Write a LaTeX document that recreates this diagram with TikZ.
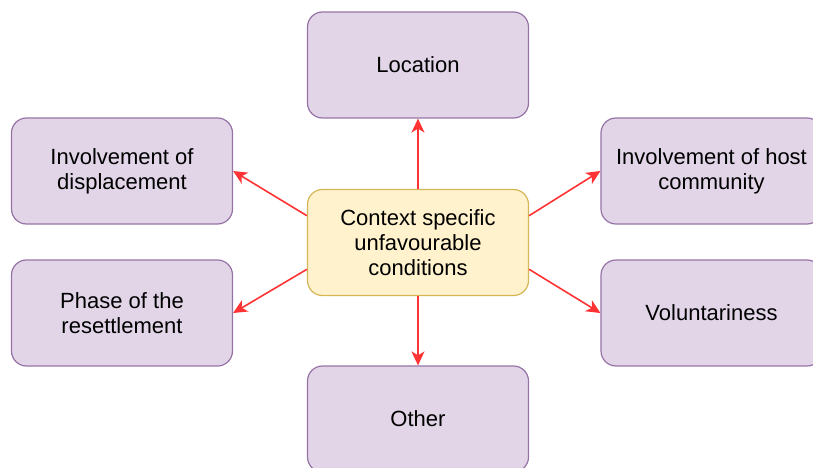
\documentclass[tikz,border=0pt]{standalone}
\usepackage{fontspec}
\setmainfont{Liberation Sans}
\usetikzlibrary{arrows.meta,calc}
\definecolor{boxfill}{HTML}{E1D5E7}
\definecolor{boxline}{HTML}{9673A6}
\definecolor{ctxfill}{HTML}{FFF2CC}
\definecolor{ctxline}{HTML}{D6B656}
\definecolor{arrowred}{HTML}{FF3333}
\begin{document}
\begin{tikzpicture}[x=1pt, y=-1pt,
    factor/.style={rectangle, rounded corners=15pt, draw=boxline, fill=boxfill, line width=1.2pt,
        minimum width=221pt, minimum height=106pt, align=center, inner sep=2pt,
        font=\fontsize{22}{25}\selectfont},
    context/.style={factor, draw=ctxline, fill=ctxfill},
    link/.style={draw=arrowred, line width=1.6pt, -{Stealth[length=14pt, width=13pt, inset=4pt]}}]
    \clip (0,0) rectangle (813,468);
    \node[context] (ctx) at (418,242.5) {Context specific\\unfavourable\\conditions};
    \node[factor] (loc) at (418,65) {Location};
    \node[factor] (disp) at (122,171) {Involvement of\\displacement};
    \node[factor] (phase) at (122,313) {Phase of the\\resettlement};
    \node[factor] (host) at (711.5,171) {Involvement of host\\community};
    \node[factor] (vol) at (711.5,313) {Voluntariness};
    \node[factor] (other) at (418,419) {Other};
        \draw[link] (ctx.north) -- (loc.south);
        \draw[link] ($(ctx.north west)!.25!(ctx.south west)$) -- (disp.east);
        \draw[link] ($(ctx.north west)!.75!(ctx.south west)$) -- (phase.east);
        \draw[link] ($(ctx.north east)!.25!(ctx.south east)$) -- (host.west);
        \draw[link] ($(ctx.north east)!.75!(ctx.south east)$) -- (vol.west);
        \draw[link] (ctx.south) -- (other.north);
\end{tikzpicture}
\end{document}
